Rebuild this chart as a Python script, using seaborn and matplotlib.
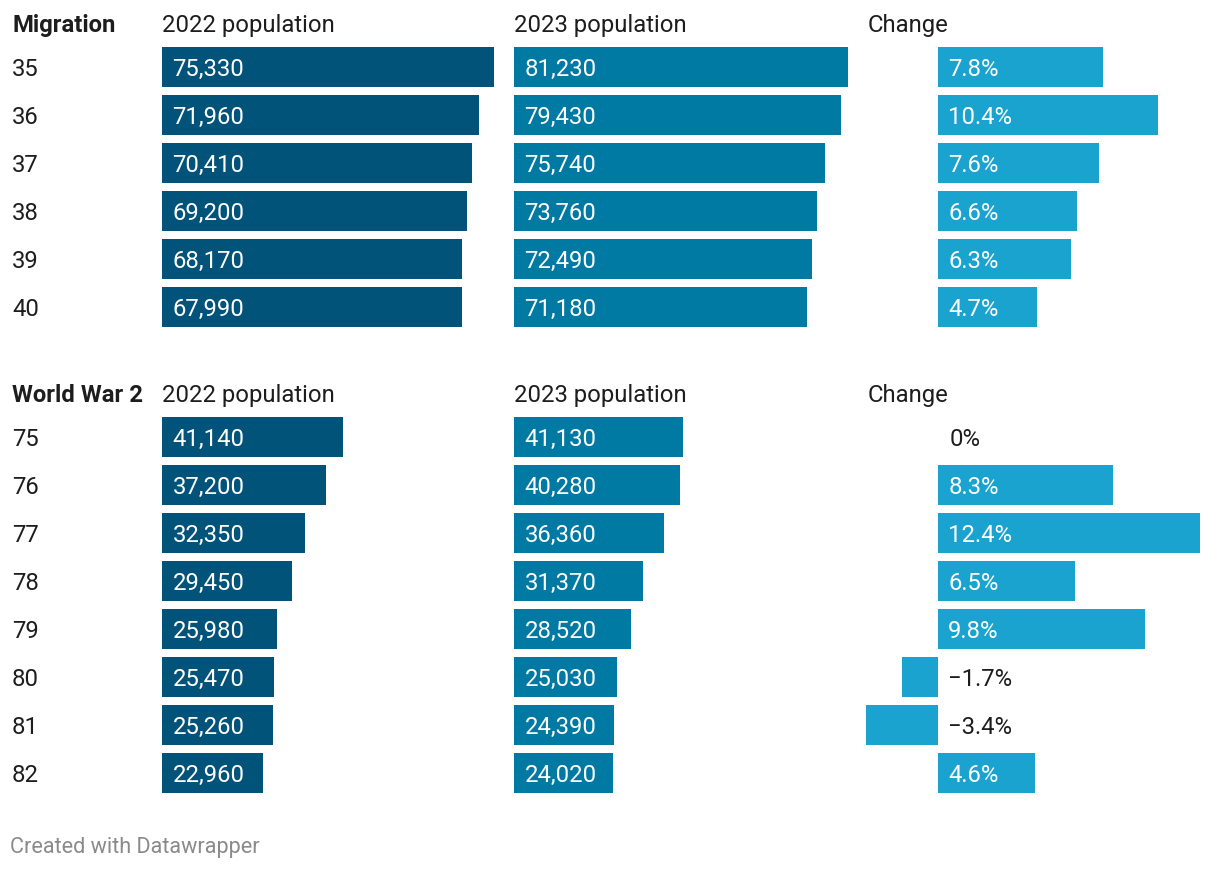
import matplotlib
matplotlib.use("Agg")
import matplotlib.pyplot as plt
import seaborn as sns
import pandas as pd

sns.set_theme(style="white")
plt.rcParams['font.family'] = ['Roboto', 'DejaVu Sans']

# Data
mig_ages = ["35", "36", "37", "38", "39", "40"]
mig_2022 = [75330, 71960, 70410, 69200, 68170, 67990]
mig_2023 = [81230, 79430, 75740, 73760, 72490, 71180]
mig_change = [7.8, 10.4, 7.6, 6.6, 6.3, 4.7]

ww2_ages = ["75", "76", "77", "78", "79", "80", "81", "82"]
ww2_2022 = [41140, 37200, 32350, 29450, 25980, 25470, 25260, 22960]
ww2_2023 = [41130, 40280, 36360, 31370, 28520, 25030, 24390, 24020]
ww2_change = [0.0, 8.3, 12.4, 6.5, 9.8, -1.7, -3.4, 4.6]

sections = [("Migration", mig_ages, mig_2022, mig_2023, mig_change),
            ("World War 2", ww2_ages, ww2_2022, ww2_2023, ww2_change)]
headers = ["2022 population", "2023 population", "Change"]

C1, C2, C3 = "#01537a", "#0079a3", "#1ba3cf"
TXT = "#1d1d1d"
FS = 17.2
DY = 1.5  # small downward nudge for text (px)

W, H = 1220, 870
fig = plt.figure(figsize=(W / 100, H / 100), dpi=100)
fig.patch.set_facecolor("white")

def ax_px(x0, y0, x1, y1):
    return fig.add_axes([x0 / W, 1 - y1 / H, (x1 - x0) / W, (y1 - y0) / H])

# column geometry (pixels) and x limits
max1 = max(mig_2022 + ww2_2022)
max2 = max(mig_2023 + ww2_2023)
cols = [
    (162, 496, (0, max1 * 334 / 332), C1),
    (514, 848, (0, max2), C2),
    (866, 1200, (-3.4, 12.4), C3),
]

section_tops = [44, 414]
ROW = 48

for (title, ages, v22, v23, vch), top in zip(sections, section_tops):
    n = len(ages)
    bottom = top + n * ROW
    hy = top - 20 + DY
    fig.text(12 / W, 1 - hy / H, title, fontsize=FS, fontweight="bold",
             color=TXT, va="center", ha="left")
    for (x0, _, _, _), hd in zip(cols, headers):
        xx = x0 + 2 if hd == "Change" else x0
        fig.text(xx / W, 1 - hy / H, hd, fontsize=FS, color=TXT, va="center", ha="left")
    for i, a in enumerate(ages):
        cy = top + ROW * i + ROW / 2 + DY
        fig.text(12 / W, 1 - cy / H, a, fontsize=FS, color=TXT, va="center", ha="left")

    for ci, ((x0, x1, xlim, col), vals) in enumerate(zip(cols, [v22, v23, vch])):
        ax = ax_px(x0, top, x1, bottom)
        df = pd.DataFrame({"age": ages, "val": vals})
        sns.barplot(data=df, x="val", y="age", orient="h", color=col,
                    saturation=1, width=40 / 48, ax=ax, order=ages,
                    linewidth=0, edgecolor="none")
        ax.set_xlim(*xlim)
        ax.set_ylim(n - 0.5, -0.5)
        ax.axis("off")
        for i, v in enumerate(vals):
            if ci < 2:
                ax.annotate(f"{v:,}", (0, i), xytext=(7.5, -DY * 0.72), textcoords="offset points",
                            color="white", fontsize=FS, va="center", ha="left")
            else:
                if v > 0:
                    lab, c = f"{v:g}%", "white"
                elif v == 0:
                    lab, c = "0%", TXT
                else:
                    lab, c = f"\u2212{abs(v):g}%", TXT
                dx = 7.5 if v != 0 else 8.5
                ax.annotate(lab, (0, i), xytext=(dx, -DY * 0.72), textcoords="offset points",
                            color=c, fontsize=FS, va="center", ha="left")

fig.text(10 / W, 1 - 848 / H, "Created with Datawrapper", fontsize=15.6,
         color="#8a8a8a", va="center", ha="left")

fig.savefig("out.png", dpi=100, facecolor="white")
